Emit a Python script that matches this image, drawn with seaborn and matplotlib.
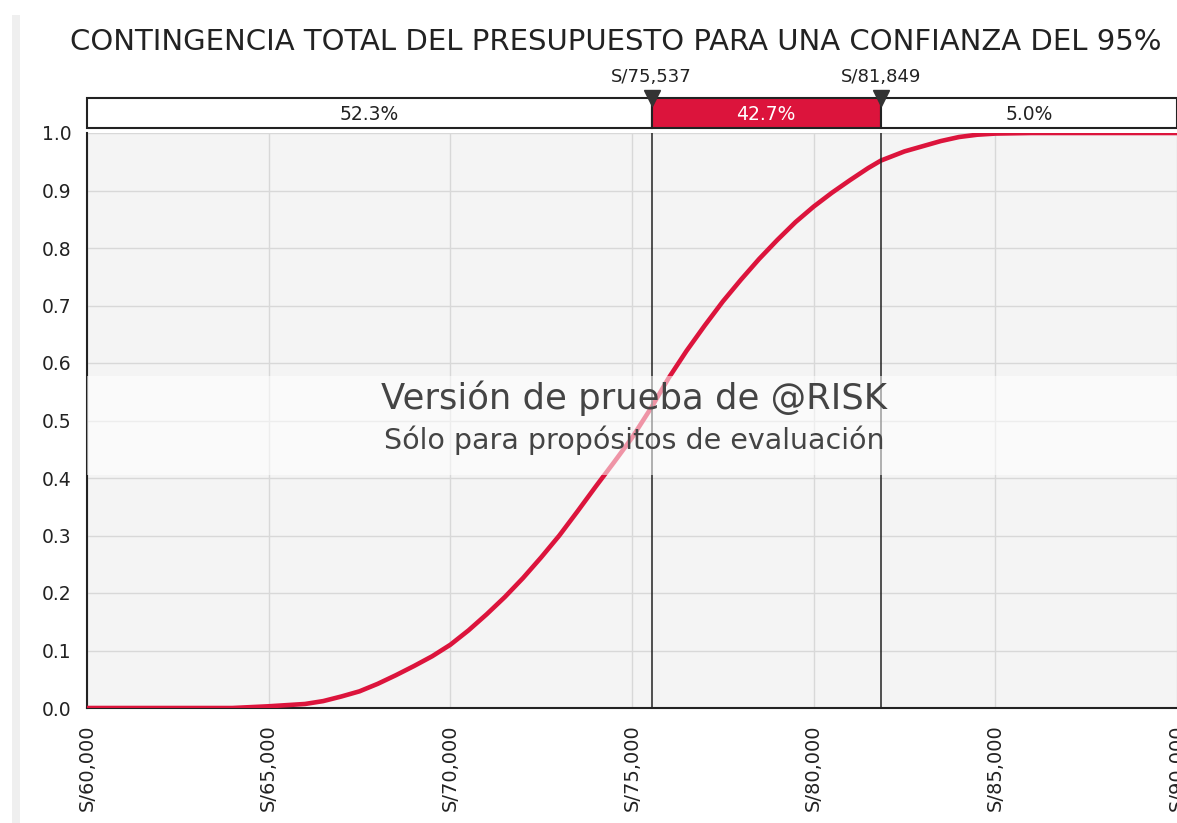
import numpy as np
import pandas as pd
import matplotlib
matplotlib.use("Agg")
import matplotlib.pyplot as plt
from matplotlib.patches import Rectangle
from matplotlib.ticker import FuncFormatter
import seaborn as sns

# ---- data ----
cost = [60000, 64000, 65000, 65500, 66000, 66500, 67000, 67500, 68000, 68500,
        69000, 69500, 70000, 70500, 71000, 71500, 72000, 72500, 73000, 73500,
        74000, 74500, 75000, 75537, 76000, 76500, 77000, 77500, 78000, 78500,
        79000, 79500, 80000, 80500, 81000, 81500, 81849, 82500, 83000, 83500,
        84000, 84500, 85000, 86000, 90000]
cdf = [0.0, 0.0, 0.003, 0.005, 0.007, 0.012, 0.020, 0.029, 0.042, 0.057,
       0.073, 0.090, 0.110, 0.135, 0.163, 0.193, 0.226, 0.262, 0.300, 0.342,
       0.385, 0.427, 0.470, 0.523, 0.573, 0.621, 0.665, 0.707, 0.745, 0.781,
       0.814, 0.845, 0.872, 0.896, 0.918, 0.939, 0.952, 0.968, 0.977, 0.986,
       0.993, 0.997, 0.999, 1.0, 1.0]
thresholds = [75537, 81849]
threshold_labels = ["S/75,537", "S/81,849"]
band_pcts = ["52.3%", "42.7%", "5.0%"]
x_ticks = [60000, 65000, 70000, 75000, 80000, 85000, 90000]
y_ticks = [0.0, 0.1, 0.2, 0.3, 0.4, 0.5, 0.6, 0.7, 0.8, 0.9, 1.0]
title = "CONTINGENCIA TOTAL DEL PRESUPUESTO PARA UNA CONFIANZA DEL 95%"
wm1 = "Versión de prueba de @RISK"
wm2 = "Sólo para propósitos de evaluación"

RED = "#dc143c"
W, H = 1177, 823

sns.set_style("white")
plt.rcParams['font.family'] = ['DejaVu Sans']

fig = plt.figure(figsize=(W / 100, H / 100), dpi=100)
fig.patch.set_facecolor("white")

# left grey strip
fig.patches.append(Rectangle((12 / W, 0), 8 / W, 1 - 15 / H, transform=fig.transFigure,
                             facecolor="#efefef", edgecolor="none", zorder=0))

def fx(px):
    return px / W

def fy(py):
    return 1 - py / H

ax = fig.add_axes([fx(87), fy(708), fx(1177) - fx(87), fy(133) - fy(708)])
ax.set_facecolor("#f4f4f4")

df = pd.DataFrame({"cost": cost, "cdf": cdf})
sns.lineplot(data=df, x="cost", y="cdf", ax=ax, color=RED, linewidth=3.3, zorder=3)

ax.set_xlim(60000, 90000)
ax.set_ylim(0, 1.0)
ax.set_xticks(x_ticks)
ax.set_yticks(y_ticks)
ax.xaxis.set_major_formatter(FuncFormatter(lambda v, p: f"S/{int(v):,}"))
ax.yaxis.set_major_formatter(FuncFormatter(lambda v, p: f"{v:.1f}"))
ax.set_xlabel("")
ax.set_ylabel("")
ax.grid(True, color="#d8d8d8", linewidth=1.0, zorder=0)
ax.set_axisbelow(True)
for s in ["top", "right"]:
    ax.spines[s].set_visible(False)
for s in ["left", "bottom"]:
    ax.spines[s].set_color("#222222")
    ax.spines[s].set_linewidth(1.5)
ax.tick_params(axis="both", which="both", length=6, width=1.2, color="#222222",
               labelcolor="#222222", direction="out")
ax.tick_params(axis="y", labelsize=13.5, pad=5)
ax.tick_params(axis="x", labelsize=14, pad=6)
plt.setp(ax.get_xticklabels(), rotation=90)

for t in thresholds:
    ax.axvline(t, color="#222222", linewidth=1.1, zorder=4)

# watermark band
ax.add_patch(Rectangle((0, (708 - 475) / 575), 1, (475 - 376) / 575, transform=ax.transAxes,
                       facecolor="white", alpha=0.55, edgecolor="none", zorder=5))
ax.text(0.5017, (708 - 398) / 575, wm1, transform=ax.transAxes, ha="center", va="center",
        fontsize=25.5, color="#444444", zorder=6)
ax.text(0.5017, (708 - 440) / 575, wm2, transform=ax.transAxes, ha="center", va="center",
        fontsize=20.5, color="#444444", zorder=6)

# top band
axb = fig.add_axes([fx(87), fy(128), fx(1177) - fx(87), fy(98) - fy(128)], sharex=ax)
axb.set_ylim(0, 1)
axb.axis("off")
edges = [60000] + thresholds + [90000]
colors = ["white", RED, "white"]
txtc = ["#222222", "white", "#222222"]
for i in range(3):
    axb.add_patch(Rectangle((edges[i], 0), edges[i + 1] - edges[i], 1, facecolor=colors[i],
                            edgecolor="#222222", linewidth=1.5, clip_on=False))
    axb.text((edges[i] + edges[i + 1]) / 2, 0.45, band_pcts[i], ha="center", va="center",
             fontsize=13.5, color=txtc[i])
for t, lab in zip(thresholds, threshold_labels):
    axb.plot([t], [1.0], marker="v", markersize=11, color="#333333", clip_on=False, zorder=5)
    axb.annotate(lab, (t, 1.0), xytext=(0, 9), textcoords="offset points",
                 ha="center", va="bottom", fontsize=13, color="#222222")

fig.text(616 / W, fy(42), title, ha="center", va="center", fontsize=21, color="#222222")

fig.savefig("out.png", dpi=100)
